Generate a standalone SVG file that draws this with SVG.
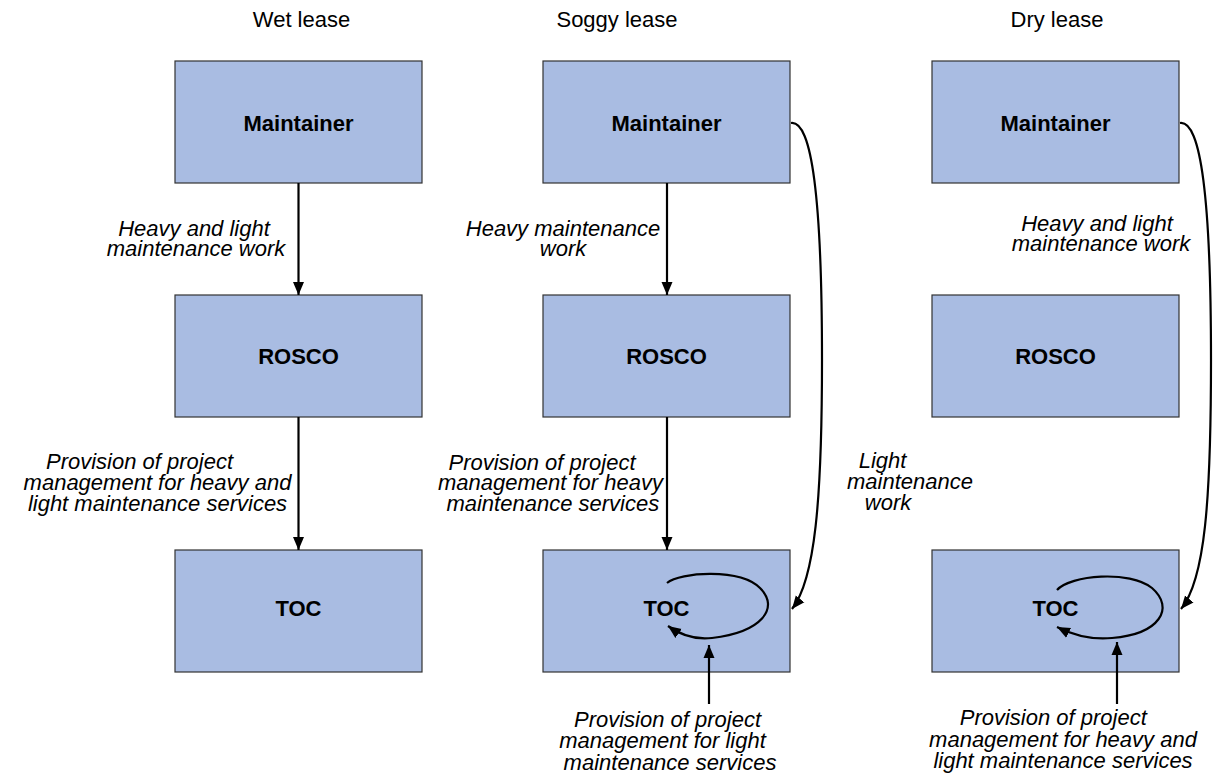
<svg xmlns="http://www.w3.org/2000/svg" width="1213" height="775" viewBox="0 0 1213 775">
<style>
.box{fill:#A9BCE2;stroke:#333;stroke-width:1.2}
.bt{font-family:"Liberation Sans",Arial,sans-serif;font-weight:bold;font-size:22px;text-anchor:middle;fill:#000}
.tt{font-family:"Liberation Sans",Arial,sans-serif;font-size:22px;text-anchor:middle;fill:#000}
.lb{font-family:"Liberation Sans",Arial,sans-serif;font-style:italic;font-size:22px;text-anchor:middle;fill:#000}
.ln{fill:none;stroke:#000;stroke-width:2.2}
</style>
<defs>
<marker id="ah" markerUnits="userSpaceOnUse" markerWidth="14" markerHeight="14" viewBox="0 0 14 14" refX="13" refY="7" orient="auto">
<path d="M0,1.5 L13,7 L0,12.5 Z" fill="#000"/>
</marker>
</defs>
<rect width="1213" height="775" fill="#fff"/>
<g id="titles">
<text class="tt" x="301.5" y="27">Wet lease</text>
<text class="tt" x="617" y="27">Soggy lease</text>
<text class="tt" x="1057" y="27">Dry lease</text>
</g>
<g id="wet-maintainer"><rect class="box" x="175" y="61" width="247" height="122"/><text class="bt" x="298.5" y="131">Maintainer</text></g>
<g id="wet-rosco"><rect class="box" x="175" y="295" width="247" height="122"/><text class="bt" x="298.5" y="364">ROSCO</text></g>
<g id="wet-toc"><rect class="box" x="175" y="550" width="247" height="122"/><text class="bt" x="298.5" y="616">TOC</text></g>
<g id="soggy-maintainer"><rect class="box" x="543" y="61" width="247" height="122"/><text class="bt" x="666.5" y="131">Maintainer</text></g>
<g id="soggy-rosco"><rect class="box" x="543" y="295" width="247" height="122"/><text class="bt" x="666.5" y="364">ROSCO</text></g>
<g id="soggy-toc"><rect class="box" x="543" y="550" width="247" height="122"/><text class="bt" x="666.5" y="616">TOC</text></g>
<g id="dry-maintainer"><rect class="box" x="932" y="61" width="247" height="122"/><text class="bt" x="1055.5" y="131">Maintainer</text></g>
<g id="dry-rosco"><rect class="box" x="932" y="295" width="247" height="122"/><text class="bt" x="1055.5" y="364">ROSCO</text></g>
<g id="dry-toc"><rect class="box" x="932" y="550" width="247" height="122"/><text class="bt" x="1055.5" y="616">TOC</text></g>
<g id="connectors">
<line class="ln" x1="298.5" y1="183" x2="298.5" y2="295" marker-end="url(#ah)"/>
<line class="ln" x1="298.5" y1="417" x2="298.5" y2="550" marker-end="url(#ah)"/>
<line class="ln" x1="667" y1="183" x2="667" y2="295" marker-end="url(#ah)"/>
<line class="ln" x1="667" y1="417" x2="667" y2="550" marker-end="url(#ah)"/>
<path class="ln" d="M791,123 C812,120 822,200 822,360 C822,500 815,580 792,609" marker-end="url(#ah)"/>
<path class="ln" d="M1180,123 C1201,120 1211,200 1211,360 C1211,500 1205,580 1181,609" marker-end="url(#ah)"/>
<path class="ln" d="M667,583 C680,572 740,568 760,588 C780,608 762,632 712,638 C695,640 682,636 668,626" marker-end="url(#ah)"/>
<path class="ln" d="M1057,590 C1070,575 1130,570 1152,588 C1175,608 1160,634 1112,638 C1092,640 1075,636 1057,627" marker-end="url(#ah)"/>
<line class="ln" x1="709" y1="704" x2="709" y2="645" marker-end="url(#ah)"/>
<line class="ln" x1="1117" y1="704" x2="1117" y2="642" marker-end="url(#ah)"/>
</g>
<g id="labels">
<text class="lb"><tspan x="194" y="236">Heavy and light</tspan><tspan x="196" y="256">maintenance work</tspan></text>
<text class="lb"><tspan x="563" y="236">Heavy maintenance</tspan><tspan x="563" y="256">work</tspan></text>
<text class="lb"><tspan x="1097" y="231">Heavy and light</tspan><tspan x="1101" y="251">maintenance work</tspan></text>
<text class="lb"><tspan x="139.5" y="469">Provision of project</tspan><tspan x="157.5" y="490">management for heavy and</tspan><tspan x="157.5" y="511">light maintenance services</tspan></text>
<text class="lb"><tspan x="542" y="470">Provision of project</tspan><tspan x="550.5" y="490">management for heavy</tspan><tspan x="552.8" y="511">maintenance services</tspan></text>
<text class="lb"><tspan x="882.5" y="468">Light</tspan><tspan x="910" y="489">maintenance</tspan><tspan x="888" y="510">work</tspan></text>
<text class="lb"><tspan x="667.5" y="727">Provision of project</tspan><tspan x="662.5" y="748">management for light</tspan><tspan x="670" y="770">maintenance services</tspan></text>
<text class="lb"><tspan x="1053.3" y="725">Provision of project</tspan><tspan x="1063" y="747">management for heavy and</tspan><tspan x="1063" y="768">light maintenance services</tspan></text>
</g>
</svg>
